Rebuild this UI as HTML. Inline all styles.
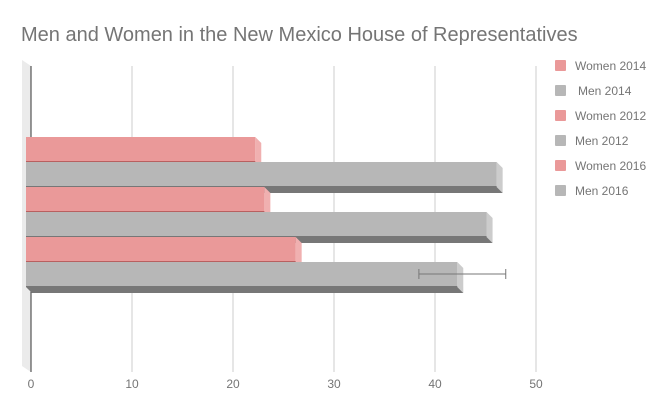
<!DOCTYPE html>
<html><head><meta charset="utf-8"><style>
body{margin:0;background:#fff;}
svg{display:block;font-family:"Liberation Sans",sans-serif;}
</style></head><body>
<svg id="chart" width="669" height="413">
<text x="21" y="41" font-size="20" fill="#757575">Men and Women in the New Mexico House of Representatives</text>
<polygon points="22,60 31,66 31,372 22,366" fill="#ebebeb"/>
<g id="grid"></g>
<g id="bars"></g>
<g id="legend"></g>
</svg>
<script>
const categories=["Women 2014","Men 2014","Women 2012","Men 2012","Women 2016","Men 2016"];
const values=[22.7,46.6,23.6,45.6,26.7,42.7];
const errLow=[null,null,null,null,null,38.9];
const errHigh=[null,null,null,null,null,47.5];
const ticks=[0,10,20,30,40,50];
const ns="http://www.w3.org/2000/svg";
const x0=31,scale=10.1;
function xs(v){return x0+v*scale;}
function mk(tag,attrs,parent){const e=document.createElementNS(ns,tag);for(const k in attrs)e.setAttribute(k,attrs[k]);parent.appendChild(e);return e;}
const grid=document.getElementById('grid');
ticks.forEach(t=>{
  const l=mk('line',{x1:xs(t),x2:xs(t),y1:66,y2:372,stroke:t===0?'#333':'#ccc','stroke-width':1},grid);
  
  
  const tx=mk('text',{x:xs(t),y:388,'font-size':12,fill:'#757575','text-anchor':'middle'},grid);
  tx.textContent=t;
  
  
});
const bars=document.getElementById('bars');
const top0=137,bh=25,d=6;
categories.forEach((c,i)=>{
  const women=c.startsWith('Women');
  const face=women?'#ea9999':'#b7b7b7', side=women?'#f0b0b0':'#cccccc', bot=women?'#b86060':'#777777';
  const y=top0+i*bh, xe=xs(values[i])-5, xl=26;
  const g=mk('g',{},bars);
  
  
  mk('polygon',{points:`${xe},${y} ${xe+d},${y+6} ${xe+d},${y+bh+6} ${xe},${y+bh}`,fill:side},g);
  mk('polygon',{points:`${xl},${y+bh} ${xe},${y+bh} ${xe+d},${y+bh+6} ${xl+d},${y+bh+6}`,fill:women?'#ea9999':'#777'},g);
  mk('rect',{x:xl,y:y,width:xe-xl,height:bh,fill:face},g);
  mk('line',{x1:xl,x2:xe,y1:y+bh-0.5,y2:y+bh-0.5,stroke:bot},g);
  if(errLow[i]!=null){
    const ey=y+12,a=xs(errLow[i])-5,b=xs(errHigh[i])-5;
    const eg=mk('g',{stroke:'#777','stroke-width':1},bars);
    
    
    mk('line',{x1:a,x2:b,y1:ey,y2:ey},eg);
    mk('line',{x1:a,x2:a,y1:ey-5,y2:ey+5},eg);
    mk('line',{x1:b,x2:b,y1:ey-5,y2:ey+5},eg);
  }
});
const lg=document.getElementById('legend');
categories.forEach((c,i)=>{
  const y=66+i*25;
  const g=mk('g',{},lg);
  
  
  mk('rect',{x:555,y:y-6,width:11,height:11,rx:1,fill:c.startsWith('Women')?'#ea9999':'#b7b7b7'},g);
  const t=mk('text',{x:c==='Men 2014'?578:575,y:y+4,'font-size':12,fill:'#757575'},g);
  t.textContent=c;
});
</script>
</body></html>
